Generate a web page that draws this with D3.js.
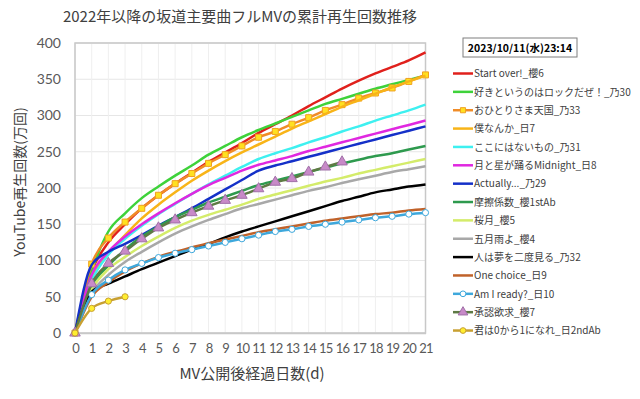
<!DOCTYPE html>
<html>
<head>
<meta charset="utf-8">
<script src="https://cdn.jsdelivr.net/npm/d3@7"></script>
<style>
  body { margin: 0; background: #fff; }
  text { font-family: "Noto Sans CJK JP", "Noto Sans", sans-serif; }
</style>
</head>
<body>
<script>
// --- data ---
var days = d3.range(0, 22);
var yTicks = [0, 50, 100, 150, 200, 250, 300, 350, 400];
var seriesNames = [
  "Start over!_櫻6", "好きというのはロックだぜ！_乃30", "おひとりさま天国_乃33", "僕なんか_日7",
  "ここにはないもの_乃31", "月と星が踊るMidnight_日8", "Actually..._乃29", "摩擦係数_櫻1stAb",
  "桜月_櫻5", "五月雨よ_櫻4", "人は夢を二度見る_乃32", "One choice_日9",
  "Am I ready?_日10", "承認欲求_櫻7", "君は0から1になれ_日2ndAb"
];
var startOver   = [0, 85, 125, 150, 172, 190, 206, 221, 236, 249, 262, 276, 288, 300, 313, 325, 337, 348, 358, 367, 376, 387];
var sukiRock    = [0, 85, 140, 165, 186, 202, 217, 231, 246, 258, 270, 280, 289, 298, 307, 316, 323, 330, 337, 343, 349, 355];
var ohitori     = [0, 95, 131, 153, 172, 190, 206, 220, 234, 246, 258, 270, 278, 288, 297, 307, 315, 324, 331, 338, 347, 356];
var bokuNanka   = [0, 75, 110, 135, 158, 177, 194, 210, 224, 237, 249, 260, 271, 282, 292, 302, 312, 321, 330, 339, 347, 355];
var kokoniwa    = [0, 72, 108, 130, 148, 164, 178, 192, 205, 217, 229, 240, 248, 255, 263, 270, 278, 285, 293, 300, 307, 315];
var tsukiHoshi  = [0, 80, 112, 133, 150, 165, 179, 192, 204, 214, 224, 232, 238, 244, 251, 257, 263, 269, 275, 281, 287, 293];
var actually    = [0, 94, 112, 123, 135, 148, 160, 172, 185, 198, 211, 224, 231, 237, 243, 249, 255, 261, 267, 273, 279, 285];
var masatsu     = [0, 65, 93, 115, 133, 147, 160, 170, 180, 188, 196, 204, 210, 216, 222, 228, 234, 239, 244, 248, 253, 258];
var sakuraTsuki = [0, 60, 88, 105, 120, 133, 145, 155, 163, 170, 177, 185, 191, 197, 203, 209, 214, 220, 225, 230, 235, 240];
var samidare    = [0, 55, 80, 98, 112, 125, 137, 147, 156, 164, 172, 178, 184, 190, 196, 201, 207, 212, 217, 222, 226, 230];
var hitoYume    = [0, 57, 68, 78, 88, 97, 106, 115, 123, 132, 140, 147, 154, 161, 168, 175, 182, 188, 194, 198, 202, 205];
var oneChoice   = [0, 50, 70, 85, 96, 105, 112, 118, 124, 129, 134, 139, 143, 147, 151, 155, 158, 161, 164, 166, 169, 171];
var amIReady    = [0, 53, 73, 87, 96, 104, 110, 115, 120, 125, 130, 135, 140, 143, 147, 150, 153, 156, 159, 161, 164, 166];
var shonin      = [0, 68, 96, 113, 130, 145, 156, 166, 175, 183, 190, 199, 208, 213, 222, 229, 236];
var kimiwa      = [0, 34, 44, 50];

var seriesValues = [startOver, sukiRock, ohitori, bokuNanka, kokoniwa, tsukiHoshi, actually, masatsu,
  sakuraTsuki, samidare, hitoYume, oneChoice, amIReady, shonin, kimiwa];

// styles per series (not data)
var styles = [
  { stroke: "#e0201c" },
  { stroke: "#3ed23a" },
  { stroke: "#f08c28", marker: "square", fill: "#ffe020", mstroke: "#f0a020" },
  { stroke: "#f8b418" },
  { stroke: "#3ef0f0" },
  { stroke: "#e028e0" },
  { stroke: "#1430c8" },
  { stroke: "#2e9a4e" },
  { stroke: "#d4ec6a" },
  { stroke: "#a8a8a8" },
  { stroke: "#000000" },
  { stroke: "#c0622a" },
  { stroke: "#3ea8dc", marker: "circle", fill: "#ffffff", mstroke: "#3ea8dc" },
  { stroke: "#5e7a44", marker: "triangle", fill: "#c88ac8", mstroke: "#a070a8" },
  { stroke: "#c8a032", marker: "circle", fill: "#ffee30", mstroke: "#c8a032" }
];

function symType(m) {
  return m === "square" ? d3.symbolSquare : m === "triangle" ? d3.symbolTriangle : d3.symbolCircle;
}

var W = 640, H = 399;
var svg = d3.select("body").append("svg").attr("width", W).attr("height", H);

var x = d3.scaleLinear().domain([0, 21]).range([75, 425.5]);
var y = d3.scaleLinear().domain([0, 400]).range([333, 43]);

// gridlines
svg.append("g").selectAll("line.h").data(yTicks).enter().append("line")
  .attr("x1", x(0)).attr("x2", x(21))
  .attr("y1", d => y(d)).attr("y2", d => y(d))
  .attr("stroke", "#e6e6e6").attr("stroke-width", 1);
svg.append("g").selectAll("line.v").data(days).enter().append("line")
  .attr("x1", d => x(d)).attr("x2", d => x(d))
  .attr("y1", y(0)).attr("y2", y(400))
  .attr("stroke", "#efefef").attr("stroke-width", 1);

// plot frame
svg.append("rect").attr("x", x(0)).attr("y", y(400))
  .attr("width", x(21) - x(0)).attr("height", y(0) - y(400))
  .attr("fill", "none").attr("stroke", "#c8c8c8").attr("stroke-width", 1.5);

// axes
var xAxis = svg.append("g").attr("transform", "translate(0," + y(0) + ")")
  .call(d3.axisBottom(x).tickValues(days).tickSize(0).tickPadding(11));
var yAxis = svg.append("g").attr("transform", "translate(" + x(0) + ",0)")
  .call(d3.axisLeft(y).tickValues(yTicks).tickSize(0).tickPadding(14));
[xAxis, yAxis].forEach(function(a) {
  a.select(".domain").attr("stroke", "#c8c8c8").attr("stroke-width", 1.5);
  a.selectAll("text").attr("fill", "#595959").style("font-size", "14px")
    .style("font-family", "Lato, 'Noto Sans', sans-serif");
});
yAxis.select(".domain").remove();
xAxis.selectAll("text").style("font-size", "13px").style("letter-spacing", "-0.8px");

// lines
var line = d3.line()
  .x(function(d, i) { return x(i); })
  .y(function(d) { return y(d); })
  .curve(d3.curveMonotoneX);

var gLines = svg.append("g");
seriesValues.forEach(function(vals, k) {
  var st = styles[k];
  gLines.append("path").datum(vals)
    .attr("d", line)
    .attr("fill", "none")
    .attr("stroke", st.stroke)
    .attr("stroke-width", 2.5)
    .attr("stroke-linejoin", "round");
  if (st.marker) {
    var size = st.marker === "triangle" ? 48 : st.marker === "square" ? 36 : 30;
    gLines.append("g").selectAll("path").data(vals).enter().append("path")
      .attr("d", d3.symbol().type(symType(st.marker)).size(size))
      .attr("transform", function(d, i) { return "translate(" + x(i) + "," + y(d) + ")"; })
      .attr("fill", st.fill).attr("stroke", st.mstroke).attr("stroke-width", 1);
  }
});

// title
svg.append("text").attr("x", 240).attr("y", 22).attr("text-anchor", "middle")
  .attr("fill", "#404040").style("font-size", "15px")
  .text("2022年以降の坂道主要曲フルMVの累計再生回数推移");

// axis titles
svg.append("text").attr("x", 252).attr("y", 379).attr("text-anchor", "middle")
  .attr("fill", "#404040").style("font-size", "15px")
  .text("MV公開後経過日数(d)");
svg.append("text").attr("transform", "translate(25,182) rotate(-90)").attr("text-anchor", "middle")
  .attr("fill", "#404040").style("font-size", "14px")
  .text("YouTube再生回数(万回)");

// date box
svg.append("rect").attr("x", 463).attr("y", 38).attr("width", 114).attr("height", 19)
  .attr("fill", "#fff").attr("stroke", "#7f7f7f").attr("stroke-width", 1);
svg.append("text").attr("x", 520).attr("y", 51.5).attr("text-anchor", "middle")
  .attr("fill", "#000").style("font-size", "10.5px").style("font-weight", "bold")
  .text("2023/10/11(水)23:14");

// legend
var legend = svg.append("g").selectAll("g").data(seriesNames).enter().append("g")
  .attr("transform", function(d, i) { return "translate(453," + (73.5 + i * 18.36) + ")"; });
legend.append("line").attr("x1", 0).attr("x2", 20).attr("y1", 0).attr("y2", 0)
  .attr("stroke", function(d, i) { return styles[i].stroke; }).attr("stroke-width", 2.5);
legend.each(function(d, i) {
  var st = styles[i];
  if (!st.marker) return;
  d3.select(this).append("path")
    .attr("d", d3.symbol().type(symType(st.marker)).size(st.marker === "triangle" ? 40 : 26))
    .attr("transform", "translate(10,0)")
    .attr("fill", st.fill).attr("stroke", st.mstroke).attr("stroke-width", 1);
});
legend.append("text").attr("x", 21).attr("y", 3.8)
  .attr("fill", "#404040").style("font-size", "10px")
  .text(function(d) { return d; });
</script>
</body>
</html>
